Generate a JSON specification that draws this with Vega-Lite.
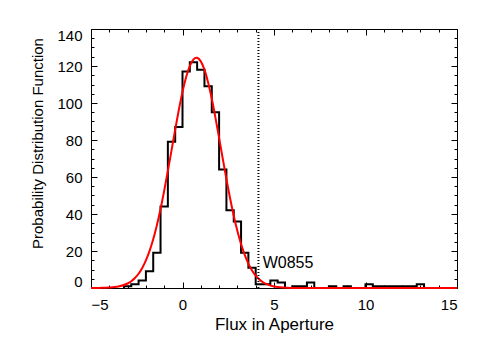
{
  "$schema": "https://vega.github.io/schema/vega-lite/v6.json",
  "width": 366,
  "height": 259,
  "autosize": {"type": "none"},
  "padding": {"left": 91, "top": 29, "right": 28, "bottom": 58},
  "background": "white",
  "config": {
    "font": "Liberation Sans",
    "view": {"stroke": null},
    "axis": {
      "domainColor": "black",
      "tickColor": "black",
      "labelColor": "black",
      "titleColor": "black",
      "labelFont": "Liberation Sans",
      "titleFont": "Liberation Sans",
      "labelFontSize": 15,
      "titleFontSize": 15,
      "titleFontWeight": "normal",
      "grid": false,
      "labelOverlap": false
    }
  },
  "datasets": {
    "hist": [
      {"i": 0, "flux": -3.2, "count": 0},
      {"i": 1, "flux": -3.2, "count": 1},
      {"i": 2, "flux": -2.8, "count": 2},
      {"i": 3, "flux": -2.4, "count": 4},
      {"i": 4, "flux": -2.0, "count": 9},
      {"i": 5, "flux": -1.6, "count": 19},
      {"i": 6, "flux": -1.2, "count": 44},
      {"i": 7, "flux": -0.8, "count": 79},
      {"i": 8, "flux": -0.4, "count": 87},
      {"i": 9, "flux": 0.0, "count": 117},
      {"i": 10, "flux": 0.4, "count": 122},
      {"i": 11, "flux": 0.8, "count": 118},
      {"i": 12, "flux": 1.2, "count": 109},
      {"i": 13, "flux": 1.6, "count": 95},
      {"i": 14, "flux": 2.0, "count": 64},
      {"i": 15, "flux": 2.4, "count": 42},
      {"i": 16, "flux": 2.8, "count": 36},
      {"i": 17, "flux": 3.2, "count": 19},
      {"i": 18, "flux": 3.6, "count": 11},
      {"i": 19, "flux": 4.0, "count": 2},
      {"i": 20, "flux": 4.4, "count": 2},
      {"i": 21, "flux": 4.8, "count": 4},
      {"i": 22, "flux": 5.2, "count": 3},
      {"i": 23, "flux": 5.6, "count": 0},
      {"i": 24, "flux": 6.0, "count": 1},
      {"i": 25, "flux": 6.4, "count": 1},
      {"i": 26, "flux": 6.8, "count": 3},
      {"i": 27, "flux": 7.2, "count": 0},
      {"i": 28, "flux": 7.6, "count": 0},
      {"i": 29, "flux": 8.0, "count": 1},
      {"i": 30, "flux": 8.4, "count": 0},
      {"i": 31, "flux": 8.8, "count": 1},
      {"i": 32, "flux": 9.2, "count": 0},
      {"i": 33, "flux": 9.6, "count": 0},
      {"i": 34, "flux": 10.0, "count": 2},
      {"i": 35, "flux": 10.4, "count": 1},
      {"i": 36, "flux": 10.8, "count": 1},
      {"i": 37, "flux": 11.2, "count": 1},
      {"i": 38, "flux": 11.6, "count": 1},
      {"i": 39, "flux": 12.0, "count": 1},
      {"i": 40, "flux": 12.4, "count": 1},
      {"i": 41, "flux": 12.8, "count": 2},
      {"i": 42, "flux": 13.2, "count": 0}
    ],
    "fit": [
      {"flux": -5.0, "pdf": 0.01},
      {"flux": -4.5, "pdf": 0.06},
      {"flux": -4.0, "pdf": 0.23},
      {"flux": -3.5, "pdf": 0.8},
      {"flux": -3.0, "pdf": 2.43},
      {"flux": -2.8, "pdf": 3.65},
      {"flux": -2.6, "pdf": 5.37},
      {"flux": -2.4, "pdf": 7.71},
      {"flux": -2.2, "pdf": 10.85},
      {"flux": -2.0, "pdf": 14.93},
      {"flux": -1.8, "pdf": 20.07},
      {"flux": -1.6, "pdf": 26.4},
      {"flux": -1.4, "pdf": 33.96},
      {"flux": -1.2, "pdf": 42.71},
      {"flux": -1.0, "pdf": 52.55},
      {"flux": -0.8, "pdf": 63.22},
      {"flux": -0.6, "pdf": 74.39},
      {"flux": -0.4, "pdf": 85.59},
      {"flux": -0.2, "pdf": 96.33},
      {"flux": 0.0, "pdf": 106.0},
      {"flux": 0.2, "pdf": 114.1},
      {"flux": 0.4, "pdf": 120.1},
      {"flux": 0.6, "pdf": 123.6},
      {"flux": 0.76, "pdf": 124.5},
      {"flux": 0.8, "pdf": 124.44},
      {"flux": 1.0, "pdf": 122.5},
      {"flux": 1.2, "pdf": 118.0},
      {"flux": 1.4, "pdf": 111.1},
      {"flux": 1.6, "pdf": 102.3},
      {"flux": 1.8, "pdf": 92.13},
      {"flux": 2.0, "pdf": 81.14},
      {"flux": 2.2, "pdf": 69.89},
      {"flux": 2.4, "pdf": 58.88},
      {"flux": 2.6, "pdf": 48.51},
      {"flux": 2.8, "pdf": 39.08},
      {"flux": 3.0, "pdf": 30.79},
      {"flux": 3.2, "pdf": 23.73},
      {"flux": 3.4, "pdf": 17.88},
      {"flux": 3.6, "pdf": 13.18},
      {"flux": 3.8, "pdf": 9.49},
      {"flux": 4.0, "pdf": 6.69},
      {"flux": 4.2, "pdf": 4.61},
      {"flux": 4.4, "pdf": 3.11},
      {"flux": 4.6, "pdf": 2.05},
      {"flux": 5.0, "pdf": 0.83},
      {"flux": 5.5, "pdf": 0.24},
      {"flux": 6.0, "pdf": 0.06},
      {"flux": 7.0, "pdf": 0.0},
      {"flux": 10.0, "pdf": 0.0},
      {"flux": 15.0, "pdf": 0.0}
    ],
    "marker": [
      {"flux": 4.15, "labelx": 4.38, "labely": 10.6, "name": "W0855"}
    ]
  },
  "layer": [
    {
      "data": {"name": "hist"},
      "mark": {"type": "line", "interpolate": "step-after", "color": "black", "strokeWidth": 2},
      "encoding": {
        "x": {
          "field": "flux", "type": "quantitative",
          "scale": {"domain": [-5, 15], "nice": false, "zero": false},
          "axis": {
            "orient": "bottom",
            "title": "Flux in Aperture",
            "titleFontSize": 17,
            "values": [-5,-4,-3,-2,-1,0,1,2,3,4,5,6,7,8,9,10,11,12,13,14,15],
            "labelExpr": "datum.value % 5 === 0 ? datum.label : ''",
            "tickSize": {"condition": {"test": "datum.value % 5 === 0", "value": -6}, "value": -3},
            "labelPadding": 15,
            "titleBaseline": "alphabetic",
            "titleY": 41.5
          }
        },
        "y": {
          "field": "count", "type": "quantitative",
          "scale": {"domain": [0, 140], "nice": false},
          "axis": {
            "orient": "left",
            "title": "Probability Distribution Function",
            "values": [0,5,10,15,20,25,30,35,40,45,50,55,60,65,70,75,80,85,90,95,100,105,110,115,120,125,130,135,140],
            "labelExpr": "datum.value % 20 === 0 ? datum.label : ''",
            "tickSize": {"condition": {"test": "datum.value % 20 === 0", "value": -6}, "value": -3},
            "labelPadding": 15,
            "labelFlush": true,
            "labelFlushOffset": 1,
            "titleY": 114,
            "titleX": -54,
            "titleBaseline": "middle"
          }
        },
        "order": {"field": "i", "type": "quantitative"}
      }
    },
    {
      "data": {"name": "fit"},
      "mark": {"type": "line", "color": "#ff0000", "strokeWidth": 2, "interpolate": "monotone"},
      "encoding": {
        "x": {
          "field": "flux", "type": "quantitative",
          "axis": {
            "orient": "top", "title": null, "labels": false,
            "values": [-5,-4,-3,-2,-1,0,1,2,3,4,5,6,7,8,9,10,11,12,13,14,15],
            "tickSize": {"condition": {"test": "datum.value % 5 === 0", "value": -6}, "value": -3}
          }
        },
        "y": {
          "field": "pdf", "type": "quantitative",
          "axis": {
            "orient": "right", "title": null, "labels": false,
            "values": [0,5,10,15,20,25,30,35,40,45,50,55,60,65,70,75,80,85,90,95,100,105,110,115,120,125,130,135,140],
            "tickSize": {"condition": {"test": "datum.value % 20 === 0", "value": -6}, "value": -3}
          }
        }
      }
    },
    {
      "data": {"name": "marker"},
      "mark": {"type": "rule", "color": "black", "strokeWidth": 2, "strokeDash": [1, 2]},
      "encoding": {
        "x": {"field": "flux", "type": "quantitative", "axis": null}
      }
    },
    {
      "data": {"name": "marker"},
      "mark": {"type": "text", "align": "left", "baseline": "alphabetic", "fontSize": 16, "font": "Liberation Sans", "color": "black"},
      "encoding": {
        "x": {"field": "labelx", "type": "quantitative", "axis": null},
        "y": {"field": "labely", "type": "quantitative", "axis": null},
        "text": {"field": "name"}
      }
    }
  ],
  "resolve": {"axis": {"x": "independent", "y": "independent"}}
}
